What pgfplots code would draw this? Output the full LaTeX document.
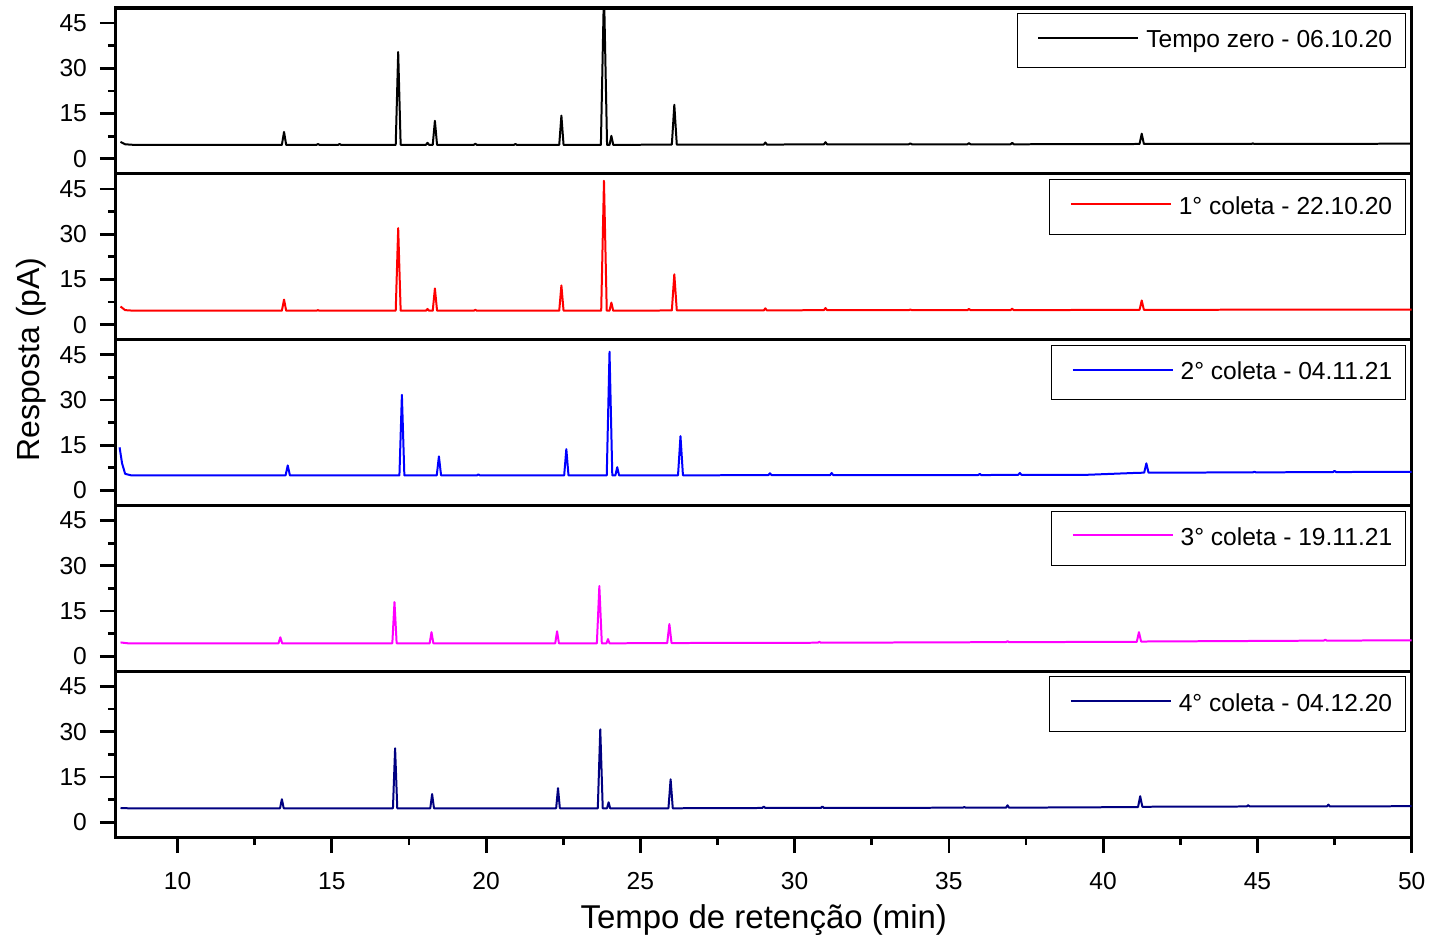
\documentclass[border=0pt]{standalone}
\usepackage{fontspec}
\setmainfont{Liberation Sans}
\usepackage{pgfplots}
\pgfplotsset{compat=1.18}
\usepgfplotslibrary{groupplots}
\usetikzlibrary{calc}
\definecolor{navy}{RGB}{0,0,128}
\definecolor{pinkish}{RGB}{255,0,255}

\pgfplotsset{
  panel/.style={
    width=648.5pt, height=83pt, scale only axis,
    xmin=8, xmax=50, ymin=-5, ymax=50,
    ytick={0,15,30,45}, minor ytick={7.5,22.5,37.5},
    xtick={10,15,...,50}, minor x tick num=1,
    ytick pos=left, xtick pos=bottom,
    tick align=outside,
    major tick length=8pt, minor tick length=4pt,
    every tick/.style={black, line width=1.4pt},
    axis line style={line width=1.6pt},
    /pgf/number format/assume math mode=true,
    ticklabel style={font=\fontsize{12.3}{14}\selectfont},
    yticklabel style={xshift=-3pt},
    xticklabel style={yshift=-6pt},
    legend style={at={(1,1)}, anchor=north east, xshift=-3pt, yshift=-2.5pt,
      draw=black, line width=0.5pt, inner xsep=4.5pt, inner ysep=6.5pt,
      font=\fontsize{12.3}{14}\selectfont},
    legend image code/.code={\path (0pt,1.5pt);
      \draw[#1, line width=1pt] (5.5pt,1.5pt) -- (55.5pt,1.5pt);
      \path (57pt,1.5pt);},
    every axis plot/.append style={line width=1pt, line join=round},
    clip=true,
  },
  upper/.style={xtick=\empty, minor xtick={}},
}

\begin{document}
\begin{tikzpicture}
\begin{groupplot}[
  group style={group size=1 by 5, vertical sep=0pt, xticklabels at=edge bottom},
  panel,
]

\nextgroupplot[upper]
\addplot[black] coordinates {
(8.15,5.6)(8.3,4.8)(8.6,4.6)(13.38,4.6)(13.45,8.9)(13.52,4.6)(14.5,4.6)(14.55,4.9)(14.6,4.6)
(15.2,4.6)(15.25,4.9)(15.3,4.6)(17.07,4.6)(17.15,35.4)(17.23,4.6)(18.05,4.6)(18.1,5.3)(18.15,4.6)
(18.27,4.6)(18.34,12.6)(18.41,4.6)(19.6,4.6)(19.65,5.0)(19.7,4.6)(20.9,4.6)(20.95,4.9)(21.0,4.6)
(22.37,4.6)(22.44,14.3)(22.51,4.6)(23.72,4.6)(23.82,56)(23.92,4.6)(24.0,4.6)(24.06,7.6)(24.12,4.6)
(26.02,4.7)(26.1,17.9)(26.18,4.7)(29.0,4.7)(29.05,5.4)(29.1,4.7)(30.95,4.8)(31.0,5.5)(31.05,4.8)
(33.7,4.8)(33.75,5.1)(33.8,4.8)(35.6,4.8)(35.65,5.2)(35.7,4.8)(37.0,4.8)(37.05,5.3)(37.1,4.8)
(41.18,4.9)(41.25,8.3)(41.32,4.9)(44.8,4.9)(44.85,5.1)(44.9,4.9)(50,5.0)
};
\addlegendentry{Tempo zero - 06.10.20}

\nextgroupplot[upper]
\addplot[red] coordinates {
(8.15,6.0)(8.3,4.8)(8.6,4.6)(13.38,4.6)(13.45,8.3)(13.52,4.6)(14.5,4.6)(14.55,4.8)(14.6,4.6)
(17.07,4.6)(17.15,32.0)(17.23,4.6)(18.05,4.6)(18.1,5.2)(18.15,4.6)
(18.27,4.6)(18.34,12.0)(18.41,4.6)(19.6,4.6)(19.65,4.9)(19.7,4.6)
(22.37,4.6)(22.44,13.0)(22.51,4.6)(23.73,4.6)(23.82,47.7)(23.91,4.6)(24.0,4.6)(24.06,7.3)(24.12,4.6)
(26.02,4.7)(26.1,16.7)(26.18,4.7)(29.0,4.7)(29.05,5.4)(29.1,4.7)(30.95,4.8)(31.0,5.5)(31.05,4.8)
(33.7,4.8)(33.75,5.0)(33.8,4.8)(35.6,4.8)(35.65,5.2)(35.7,4.8)(37.0,4.8)(37.05,5.3)(37.1,4.8)
(41.18,4.9)(41.25,8.0)(41.32,4.9)(50,5.0)
};
\addlegendentry{1° coleta - 22.10.20}

\nextgroupplot[upper]
\addplot[blue] coordinates {
(8.12,14.3)(8.2,9.0)(8.3,5.5)(8.5,5.0)(13.5,5.0)(13.57,8.3)(13.64,5.0)
(17.19,5.0)(17.27,31.7)(17.35,5.0)(18.4,5.0)(18.47,11.3)(18.54,5.0)(19.7,5.0)(19.75,5.3)(19.8,5.0)
(22.53,5.0)(22.6,13.7)(22.67,5.0)(23.91,5.0)(24.0,46.0)(24.09,5.0)(24.19,5.0)(24.25,7.7)(24.31,5.0)
(26.22,5.0)(26.3,18.0)(26.38,5.0)(29.15,5.1)(29.2,5.7)(29.25,5.1)(31.15,5.1)(31.2,5.8)(31.25,5.1)
(35.95,5.1)(36.0,5.5)(36.05,5.1)(37.25,5.2)(37.3,5.8)(37.35,5.2)(39.5,5.2)(41.0,5.8)
(41.33,5.9)(41.4,9.0)(41.47,5.9)(44.85,6.0)(44.9,6.2)(44.95,6.0)(47.45,6.1)(47.5,6.5)(47.55,6.1)(50,6.2)
};
\addlegendentry{2° coleta - 04.11.21}

\nextgroupplot[upper]
\addplot[pinkish] coordinates {
(8.15,4.6)(8.4,4.3)(13.27,4.3)(13.33,6.3)(13.39,4.3)(16.96,4.3)(17.03,18.0)(17.1,4.3)
(18.17,4.3)(18.23,8.0)(18.29,4.3)(22.24,4.3)(22.3,8.3)(22.36,4.3)(23.59,4.3)(23.67,23.3)(23.75,4.3)
(23.9,4.3)(23.95,5.7)(24.0,4.3)(25.87,4.4)(25.94,10.7)(26.01,4.4)(30.75,4.5)(30.8,4.8)(30.85,4.5)
(36.85,4.7)(36.9,5.0)(36.95,4.7)(41.09,4.8)(41.16,8.0)(41.23,4.9)(47.15,5.2)(47.2,5.5)(47.25,5.2)(50,5.3)
};
\addlegendentry{3° coleta - 19.11.21}

\nextgroupplot[xlabel={Tempo de retenção (min)},
  xlabel style={at={(rel axis cs:0.5,0)}, anchor=center, yshift=-41.5pt, font=\fontsize{16.5}{19}\selectfont}]
\addplot[navy] coordinates {
(8.15,4.7)(8.4,4.6)(13.32,4.6)(13.38,7.6)(13.44,4.6)(16.98,4.6)(17.05,24.5)(17.12,4.6)
(18.19,4.6)(18.25,9.3)(18.31,4.6)(22.27,4.6)(22.33,11.3)(22.39,4.6)(23.62,4.6)(23.7,30.8)(23.78,4.6)
(23.92,4.6)(23.97,6.6)(24.02,4.6)(25.91,4.6)(25.98,14.2)(26.05,4.6)(28.95,4.7)(29.0,5.2)(29.05,4.7)
(30.85,4.7)(30.9,5.2)(30.95,4.7)(35.45,4.8)(35.5,5.0)(35.55,4.8)(36.85,4.8)(36.9,5.6)(36.95,4.8)
(41.13,5.0)(41.2,8.6)(41.27,5.1)(44.65,5.2)(44.7,5.6)(44.75,5.2)(47.25,5.2)(47.3,5.8)(47.35,5.2)(50,5.3)
};
\addlegendentry{4° coleta - 04.12.20}
\end{groupplot}

\node[rotate=90, font=\fontsize{16}{19}\selectfont]
  at ($($(group c1r3.south west)!0.88!(group c1r3.north west)$)+(-42.5pt,0)$) {Resposta (pA)};
\path ($(group c1r5.south west)+(-58pt,-51.5pt)$) -- ++(716pt,470.5pt);
\end{tikzpicture}
\end{document}
